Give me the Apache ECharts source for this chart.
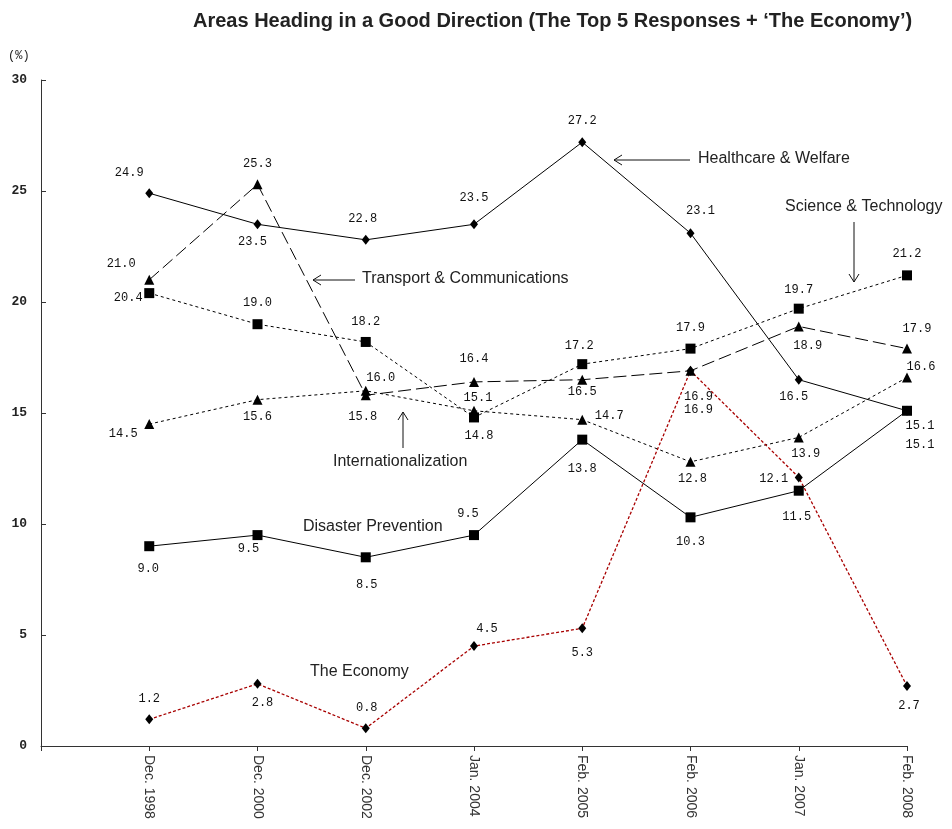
<!DOCTYPE html>
<html><head><meta charset="utf-8">
<script src="https://cdn.jsdelivr.net/npm/echarts@6/dist/echarts.min.js"></script>
<style>html,body{margin:0;padding:0;background:#fff}#c{width:952px;height:829px}</style>
</head><body><div id="c"></div>
<script>
// ---- data ----
const categories = ['Dec. 1998','Dec. 2000','Dec. 2002','Jan. 2004','Feb. 2005','Feb. 2006','Jan. 2007','Feb. 2008'];
const healthcare = [24.9, 23.5, 22.8, 23.5, 27.2, 23.1, 16.5, 15.1];
const transport = [21.0, 25.3, 15.8, 16.4, 16.5, 16.9, 18.9, 17.9];
const international = [14.5, 15.6, 16.0, 15.1, 14.7, 12.8, 13.9, 16.6];
const science = [20.4, 19.0, 18.2, 14.8, 17.2, 17.9, 19.7, 21.2];
const disaster = [9.0, 9.5, 8.5, 9.5, 13.8, 10.3, 11.5, 15.1];
const economy = [1.2, 2.8, 0.8, 4.5, 5.3, 16.9, 12.1, 2.7];
const yMin = 0, yMax = 30, yStep = 5;

// ---- label placement (style) ----
const offHealth = [[-20,-20],[-5,18],[-3,-21],[0,-26],[0,-21],[10,-22],[-5,17],[13,15]];
const offTrans = [[-28,-16],[0,-21],[-3,22],[0,-23],[0,12],[8,26],[9,19],[10,-20]];
const offIntl = [[-26,10],[0,17],[15,-13],[4,-13],[27,-4],[2,17],[7,16],[14,-11]];
const offSci = [[-21,5],[0,-21],[0,-20],[5,18],[-3,-18],[0,-21],[0,-19],[0,-22]];
const offDis = [[-1,23],[-9,14],[1,28],[-6,-21],[0,29],[0,24],[-2,26],[13,34]];
const offEco = [[0,-21],[5,19],[1,-20],[13,-17],[0,24],[8,39],[-25,1],[2,20]];

const mono = '"Liberation Mono","DejaVu Sans Mono",monospace';
const sans = '"Liberation Sans",Arial,sans-serif';

function mk(name, vals, offs, symbol, size, lineType, color, width) {
  return {
    name, type: 'line', symbol, symbolSize: size,
    itemStyle: { color: '#000' },
    lineStyle: { color: color || '#000', width: width || 1, type: lineType },
    label: { show: true, position: 'inside', fontFamily: mono, fontSize: 12, color: '#111',
      formatter: p => p.value[1].toFixed(1) },
    emphasis: { disabled: true },
    data: vals.map((v, i) => ({ value: [i + 1, v], label: { offset: offs[i] } }))
  };
}

const chart = echarts.init(document.getElementById('c'), null, { renderer: 'canvas' });
const arrowStyle = { stroke: '#111', lineWidth: 1, fill: null };
function txt(x, y, t, size, weight) {
  return { type: 'text', left: x, top: y - size * 0.6, style: { text: t, font: (weight||'normal') + ' ' + size + 'px ' + sans, fill: '#222' } };
}
chart.setOption({
  animation: false,
  backgroundColor: '#fff',
  grid: { left: 41, right: 45, top: 80, bottom: 83, containLabel: false },
  xAxis: {
    type: 'value', min: 0, max: categories.length, interval: 1,
    axisLine: { lineStyle: { color: '#333' } },
    axisTick: { show: true, length: 5, lineStyle: { color: '#333' } },
    splitLine: { show: false },
    axisLabel: { rotate: -90, fontFamily: sans, fontSize: 14, color: '#333', margin: 9,
      formatter: v => categories[v - 1] || '' }
  },
  yAxis: {
    type: 'value', min: yMin, max: yMax, interval: yStep,
    axisLine: { show: true, lineStyle: { color: '#333' } },
    axisTick: { show: true, inside: true, length: 5, lineStyle: { color: '#333' } },
    splitLine: { show: false },
    axisLabel: { fontFamily: mono, fontSize: 13, fontWeight: 'bold', color: '#222', margin: 14 }
  },
  series: [
    mk('Healthcare & Welfare', healthcare, offHealth, 'diamond', [8, 10], 'solid'),
    mk('Transport & Communications', transport, offTrans, 'triangle', 10, [13, 5]),
    mk('Internationalization', international, offIntl, 'triangle', 10, [3, 3]),
    mk('Science & Technology', science, offSci, 'rect', 10, [3, 3]),
    mk('Disaster Prevention', disaster, offDis, 'rect', 10, 'solid'),
    mk('The Economy', economy, offEco, 'diamond', [8, 10], [3, 2], '#a80000', 1.3)
  ],
  graphic: [
    txt(193, 23, 'Areas Heading in a Good Direction (The Top 5 Responses + \u2018The Economy\u2019)', 20, 'bold'),
    { type: 'text', left: 8, top: 50, style: { text: '(%)', font: '12px ' + mono, fill: '#222' } },
    txt(698, 160, 'Healthcare & Welfare', 16),
    txt(785, 208, 'Science & Technology', 16),
    txt(362, 280, 'Transport & Communications', 16),
    txt(333, 463, 'Internationalization', 16),
    txt(303, 528, 'Disaster Prevention', 16),
    txt(310, 673, 'The Economy', 16),
    { type: 'line', shape: { x1: 690, y1: 160, x2: 614, y2: 160 }, style: arrowStyle },
    { type: 'polyline', shape: { points: [[622,155],[614,160],[622,165]] }, style: arrowStyle },
    { type: 'line', shape: { x1: 854, y1: 222, x2: 854, y2: 282 }, style: arrowStyle },
    { type: 'polyline', shape: { points: [[849,274],[854,282],[859,274]] }, style: arrowStyle },
    { type: 'line', shape: { x1: 355, y1: 280, x2: 313, y2: 280 }, style: arrowStyle },
    { type: 'polyline', shape: { points: [[321,275],[313,280],[321,285]] }, style: arrowStyle },
    { type: 'line', shape: { x1: 403, y1: 448, x2: 403, y2: 412 }, style: arrowStyle },
    { type: 'polyline', shape: { points: [[398,420],[403,412],[408,420]] }, style: arrowStyle }
  ]
});
</script></body></html>
